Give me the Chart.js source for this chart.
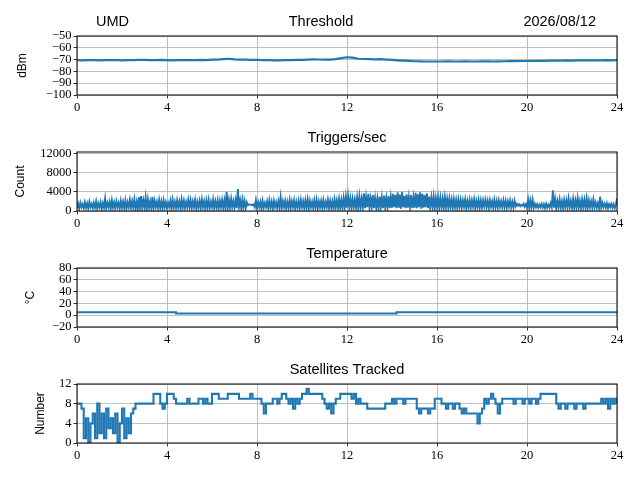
<!DOCTYPE html>
<html>
<head>
<meta charset="utf-8">
<script src="https://cdn.jsdelivr.net/npm/chart.js@4.4.0/dist/chart.umd.min.js"></script>
<style>
  body { margin: 0; background: #fff; width: 640px; height: 480px; position: relative; overflow: hidden; }
  .panel { position: absolute; left: 0; width: 640px; height: 114px; }
</style>
</head>
<body>
<div class="panel" style="top:6px"><canvas id="threshold-chart" width="640" height="114"></canvas></div>
<div class="panel" style="top:122px"><canvas id="triggers-chart" width="640" height="114"></canvas></div>
<div class="panel" style="top:238px"><canvas id="temperature-chart" width="640" height="114"></canvas></div>
<div class="panel" style="top:354px"><canvas id="satellites-chart" width="640" height="114"></canvas></div>
<script>
// Hour ticks shared by all four panels
const hourTicks = [0, 4, 8, 12, 16, 20, 24];

// Threshold (dBm), one reading every 0.25 h
const thresholdStep = 0.25;
const thresholdVals = [
  -70.5, -70.6, -70.4, -70.5, -70.6, -70.4, -70.5, -70.5, -70.6, -70.4, -70.5, -70.3,
  -70.2, -70.5, -70.4, -70.3, -70.5, -70.6, -70.5, -70.4, -70.5, -70.4, -70.3, -70.5,
  -70.0, -70.1, -69.6, -69.3, -69.8, -70.0, -70.1, -70.2,
  -70.2, -70.4, -70.5, -70.6, -70.6, -70.5, -70.4, -70.3,
  -70.2, -70.0, -69.8, -69.9, -70.0, -70.1, -69.6, -68.8,
  -68.0, -68.4, -69.3, -69.5, -69.6, -69.8, -69.6, -70.0,
  -70.3, -70.6, -70.8, -71.0, -71.4, -71.5, -71.6, -71.6,
  -71.6, -71.6, -71.5, -71.6, -71.6, -71.5, -71.6, -71.6,
  -71.5, -71.5, -71.6, -71.5, -71.4, -71.3, -71.3, -71.2,
  -71.2, -71.1, -71.0, -71.0, -70.9, -70.8, -70.8, -70.7,
  -70.8, -70.7, -70.6, -70.7, -70.6, -70.6, -70.5, -70.6, -70.5
];
const thresholdTicks = [-100, -90, -80, -70, -60, -50];

// Triggers per second, one reading every 0.05 h (one row per hour)
const triggerStep = 0.05;
const triggerVals = [
  700, 1500, 500, 1700, 800, 1400, 600, 1800, 700, 1600, 500, 1900, 800, 1500, 600, 1700, 700, 2000, 500, 1600,
  800, 1800, 400, 1600, 700, 2600, 600, 1700, 800, 1900, 500, 2200, 700, 1800, 600, 2000, 800, 1700, 500, 2100,
  700, 1900, 600, 2200, 500, 1800, 800, 2300, 600, 2000, 700, 2400, 500, 1900, 400, 2900, 700, 3100, 600, 2200,
  800, 2800, 300, 2400, 700, 2000, 600, 2900, 500, 2100, 800, 1900, 600, 2300, 700, 2000, 500, 2200, 800, 1800,
  600, 1700, 800, 2100, 500, 2300, 700, 1900, 600, 2200, 800, 2000, 500, 2400, 700, 2100, 600, 1900, 800, 2300,
  700, 2200, 600, 2000, 800, 2300, 500, 1900, 700, 2100, 600, 2400, 800, 2000, 500, 2200, 700, 2300, 600, 1900,
  800, 2400, 600, 2000, 700, 2200, 500, 2100, 800, 2300, 600, 2200, 500, 4000, 700, 2300, 600, 2500, 800, 2100,
  700, 2300, 600, 4600, 800, 2200, 500, 2400, 700, 2100, 600, 1800, 1200, 1400, 1300, 1300, 1200, 1400, 800, 2200,
  600, 1800, 800, 1900, 500, 2100, 700, 1700, 800, 2000, 600, 2200, 700, 1900, 500, 2100, 800, 1800, 600, 2000,
  700, 2900, 600, 2000, 800, 2100, 500, 1900, 700, 2300, 600, 2000, 800, 2200, 500, 1900, 700, 2100, 600, 2300,
  800, 2000, 600, 2200, 700, 2400, 500, 2100, 800, 1900, 600, 2200, 700, 2300, 500, 2000, 800, 2100, 600, 2200,
  700, 1900, 800, 2300, 600, 2100, 700, 2000, 500, 2400, 800, 2200, 600, 2500, 700, 2300, 600, 2700, 800, 3000,
  700, 3100, 900, 2600, 600, 2500, 800, 2400, 700, 2800, 600, 3000, 800, 2500, 700, 3700, 600, 2900, 800, 3600,
  700, 2600, 800, 3300, 600, 2700, 700, 2600, 500, 3000, 800, 2800, 600, 3200, 700, 2700, 800, 3100, 600, 2900,
  700, 3600, 800, 3300, 600, 3900, 700, 3400, 500, 4000, 800, 3100, 600, 3500, 700, 2900, 800, 3300, 600, 2800,
  700, 3800, 600, 3500, 800, 3900, 500, 3600, 700, 3300, 800, 3700, 600, 3000, 700, 2800, 800, 3000, 600, 2700,
  900, 2800, 700, 2700, 800, 2600, 600, 2900, 800, 2500, 700, 2600, 900, 2400, 600, 2500, 800, 2300, 700, 2400,
  800, 2300, 700, 2200, 900, 2400, 600, 2100, 800, 2300, 700, 2200, 900, 2400, 600, 2100, 800, 2300, 700, 2200,
  700, 2200, 900, 2300, 800, 2100, 600, 2200, 900, 2000, 700, 2300, 800, 2100, 700, 2200, 900, 2000, 800, 2200,
  800, 2100, 700, 2000, 900, 2200, 800, 1900, 700, 2100, 1000, 1500, 1100, 1400, 1000, 1300, 1100, 1500, 900, 1400,
  700, 2400, 600, 2200, 800, 2300, 700, 1500, 800, 1400, 700, 1300, 800, 1500, 700, 1400, 600, 1500, 700, 1300,
  700, 1600, 800, 4300, 700, 2500, 600, 2100, 800, 2400, 700, 2000, 600, 2300, 800, 2200, 700, 2600, 800, 2100,
  700, 2500, 600, 2200, 800, 2700, 700, 2100, 600, 2400, 800, 2300, 700, 2600, 600, 2200, 800, 2000, 700, 2400,
  800, 1800, 700, 1600, 600, 3000, 700, 1700, 800, 1500, 700, 1600, 600, 1400, 800, 1500, 700, 1400, 600, 1300,
  2600
];
const triggerTicks = [0, 4000, 8000, 12000];

// Temperature (°C): value holds from each change time to the next
const tempHours = [0, 4.4, 14.2, 24];
const tempVals = [5, 3, 5, 5];
const tempTicks = [-20, 0, 20, 40, 60, 80];

// Satellites tracked, one reading every 0.1 h
const satStep = 0.1;
const satVals = [
  8, 8, 7,
  1, 5, 0, 4, 6, 1, 8, 2, 6, 1, 7, 3, 5, 2, 6, 0, 4, 7, 1, 5, 2, 6,
  7,
  8, 8, 8, 8, 8, 8, 8, 8,
  10, 10, 10,
  8, 7, 8,
  10, 10, 10, 9,
  8, 8,
  8, 8, 8, 9, 8, 8, 8, 8, 9, 9, 8, 9, 8, 8,
  10, 10, 10, 9,
  9, 9, 9,
  10, 10, 10, 10, 10,
  9, 9, 9, 9, 9,
  10,
  9, 9, 9, 9,
  8, 6, 8, 8,
  8, 9, 9, 8, 9,
  10, 10,
  9, 8, 9, 7, 9, 8, 9,
  10, 10, 11, 10, 10, 10, 10, 10, 10, 9,
  8, 7, 8, 6, 8, 9, 9,
  10, 10, 10, 10, 10,
  9, 10, 8, 9, 8, 8, 8,
  7, 7, 7, 7, 7, 7, 7, 7,
  8, 8, 8,
  9, 8, 9, 9, 9, 8, 9, 9, 9, 9, 9,
  7, 6, 7, 7, 7, 6, 7, 7,
  9, 9, 9,
  8, 8, 7, 8, 8, 7, 8, 8,
  7, 6, 7, 6, 6, 6, 6, 6,
  4,
  6, 7,
  9, 8, 9, 10, 9,
  8, 6, 8, 9,
  9, 9, 9, 9, 8, 9, 9, 9, 8, 9,
  9, 8, 9, 9, 8, 9,
  10, 10, 10, 10, 10, 10, 10,
  8, 7, 8, 8, 7, 8, 8,
  8, 7, 8, 8, 8, 7, 8,
  8, 8, 8, 8, 8, 8,
  9, 8, 9, 7, 9, 8, 9, 8
];
const satTicks = [0, 4, 8, 12];

const LINE_COLOR = '#1f77b4';
const GRID_COLOR = '#b0b0b0';
const TICK_FONT = { family: '"Liberation Serif", serif', size: 12.5 };
const LABEL_FONT = { family: '"Liberation Sans", sans-serif', size: 12 };
const TITLE_FONT = '14.5px "Liberation Sans", sans-serif';

function fmtTick(v) {
    return v < 0 ? '\u2212' + Math.abs(v) : String(v);
}

// evenly sampled readings -> {x, y} points
function sampled(vals, step) {
    return vals.map((v, i) => ({ x: i * step, y: v }));
}

// draws the axes frame plus the panel titles above the plot
const framePlugin = {
    id: 'frame',
    afterDatasetsDraw(chart, args, opts) {
        const { ctx, chartArea: a } = chart;
        ctx.save();
        ctx.strokeStyle = '#000';
        ctx.lineWidth = 1;
        ctx.strokeRect(a.left, a.top, a.right - a.left, a.bottom - a.top);
        ctx.fillStyle = '#000';
        ctx.font = TITLE_FONT;
        ctx.textBaseline = 'middle';
        (opts.texts || []).forEach(t => {
            ctx.textAlign = t.align || 'center';
            const x = t.x == null ? (a.left + a.right) / 2 : t.x;
            ctx.fillText(t.text, x, a.top - 14);
        });
        ctx.restore();
    }
};

function makePanel(id, cfg) {
    const ctx = document.getElementById(id).getContext('2d');
    return new Chart(ctx, {
        type: 'line',
        data: {
            datasets: [{
                data: cfg.points,
                borderColor: LINE_COLOR,
                borderWidth: cfg.lineWidth || 1.5,
                pointRadius: 0,
                stepped: cfg.stepped || false,
                tension: 0
            }]
        },
        options: {
            responsive: false,
            animation: false,
            events: [],
            layout: { padding: { left: cfg.padLeft, right: 23, top: 30, bottom: 0 } },
            plugins: {
                legend: { display: false },
                tooltip: { enabled: false },
                frame: { texts: cfg.texts }
            },
            scales: {
                x: {
                    type: 'linear',
                    min: 0,
                    max: 24,
                    afterBuildTicks: s => { s.ticks = hourTicks.map(v => ({ value: v })); },
                    afterFit: s => { s.height = 25; },
                    grid: { color: GRID_COLOR, lineWidth: 0.8, tickColor: '#000', tickLength: 3.5, tickWidth: 0.8 },
                    border: { display: false },
                    ticks: { color: '#000', font: TICK_FONT, padding: 2, maxRotation: 0, autoSkip: false, callback: fmtTick }
                },
                y: {
                    type: 'linear',
                    min: cfg.yMin,
                    max: cfg.yMax,
                    afterBuildTicks: s => { s.ticks = cfg.yTicks.map(v => ({ value: v })); },
                    afterFit: s => { s.width = 77 - cfg.padLeft; },
                    grid: { color: GRID_COLOR, lineWidth: 0.8, tickColor: '#000', tickLength: 3.5, tickWidth: 0.8 },
                    border: { display: false },
                    ticks: { color: '#000', font: TICK_FONT, padding: 2, autoSkip: false, callback: fmtTick },
                    title: { display: true, text: cfg.yLabel, color: '#000', font: LABEL_FONT, padding: 0 }
                }
            }
        },
        plugins: [framePlugin]
    });
}

makePanel('threshold-chart', {
    points: sampled(thresholdVals, thresholdStep),
    lineWidth: 2.2,
    yMin: -100, yMax: -50, yTicks: thresholdTicks, yLabel: 'dBm', padLeft: 15,
    texts: [
        { text: 'UMD', x: 96, align: 'left' },
        { text: 'Threshold', x: 321, align: 'center' },
        { text: '2026/08/12', x: 596, align: 'right' }
    ]
});

makePanel('triggers-chart', {
    points: sampled(triggerVals, triggerStep),
    lineWidth: 1.9,
    yMin: 0, yMax: 12300, yTicks: triggerTicks, yLabel: 'Count', padLeft: 13,
    texts: [{ text: 'Triggers/sec' }]
});

makePanel('temperature-chart', {
    points: tempHours.map((h, i) => ({ x: h, y: tempVals[i] })),
    stepped: true, lineWidth: 2,
    yMin: -20, yMax: 80, yTicks: tempTicks, yLabel: '\u00B0C', padLeft: 23,
    texts: [{ text: 'Temperature' }]
});

makePanel('satellites-chart', {
    points: sampled(satVals, satStep),
    stepped: true, lineWidth: 2.1,
    yMin: 0, yMax: 12, yTicks: satTicks, yLabel: 'Number', padLeft: 33,
    texts: [{ text: 'Satellites Tracked' }]
});
</script>
</body>
</html>
